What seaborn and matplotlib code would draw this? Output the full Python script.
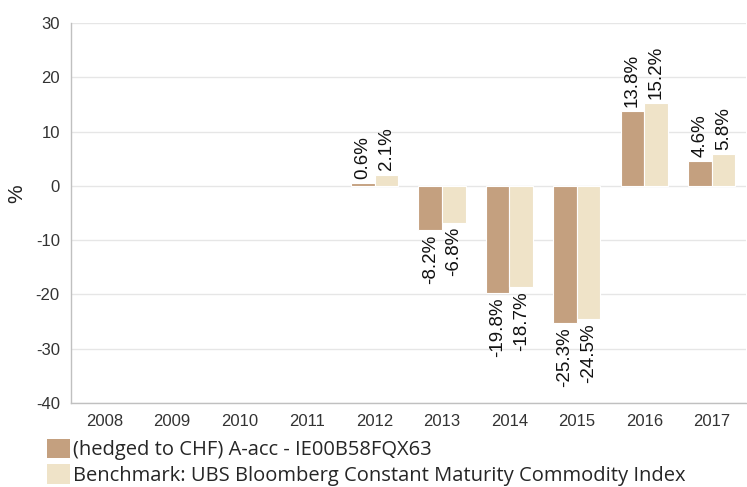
import pandas as pd
import seaborn as sns
import matplotlib.pyplot as plt
from matplotlib.patches import Patch

years = ['2008', '2009', '2010', '2011', '2012', '2013', '2014', '2015', '2016', '2017']
fund = [None, None, None, None, 0.6, -8.2, -19.8, -25.3, 13.8, 4.6]
bench = [None, None, None, None, 2.1, -6.8, -18.7, -24.5, 15.2, 5.8]
series = ['(hedged to CHF) A-acc - IE00B58FQX63',
          'Benchmark: UBS Bloomberg Constant Maturity Commodity Index']
colors = ['#C4A07F', '#EFE3C8']

df = pd.DataFrame({
    'year': years * 2,
    'value': fund + bench,
    'series': [series[0]] * len(years) + [series[1]] * len(years),
}).dropna()

sns.set_style('white')
plt.rcParams['font.family'] = ['Liberation Sans', 'DejaVu Sans']
plt.rcParams['axes.unicode_minus'] = False

fig = plt.figure(figsize=(7.47, 4.87), dpi=100)
ax = fig.add_axes([0.095, 0.1725, 0.903, 0.78])

sns.barplot(data=df, x='year', y='value', hue='series', order=years,
            hue_order=series, palette=colors, width=0.7, saturation=1,
            edgecolor='white', linewidth=0.8, legend=False, ax=ax)

for cont in ax.containers:
    labels = ['%.1f%%' % b.get_height() for b in cont]
    ax.bar_label(cont, labels=labels, rotation=90, padding=3, fontsize=13.5, color='#111111')

ax.set_ylim(-40, 30)
ax.set_yticks(range(-40, 31, 10))
ax.set_xlim(-0.5, len(years) - 0.5)
ax.set_xlabel('')
ax.set_ylabel('%', fontsize=15, color='#222222')
ax.yaxis.set_label_coords(-0.066, 0.55)
ax.yaxis.grid(True, color='#e6e6e6', linewidth=1)
ax.set_axisbelow(True)
ax.tick_params(axis='both', length=0, labelsize=12, labelcolor='#333333', pad=8)
for s in ['top', 'right']:
    ax.spines[s].set_visible(False)
for s in ['left', 'bottom']:
    ax.spines[s].set_color('#c0c0c0')
    ax.spines[s].set_linewidth(1)

handles = [Patch(facecolor=c, edgecolor='none') for c in colors]
fig.legend(handles, series, loc='lower left', bbox_to_anchor=(0.05, -0.018),
           frameon=False, handlelength=1.1, handleheight=1.1,
           handletextpad=0.15, labelspacing=0.2, borderaxespad=0.1,
           prop={'family': 'Open Sans', 'size': 14.5})

fig.savefig('out.png', dpi=100)
